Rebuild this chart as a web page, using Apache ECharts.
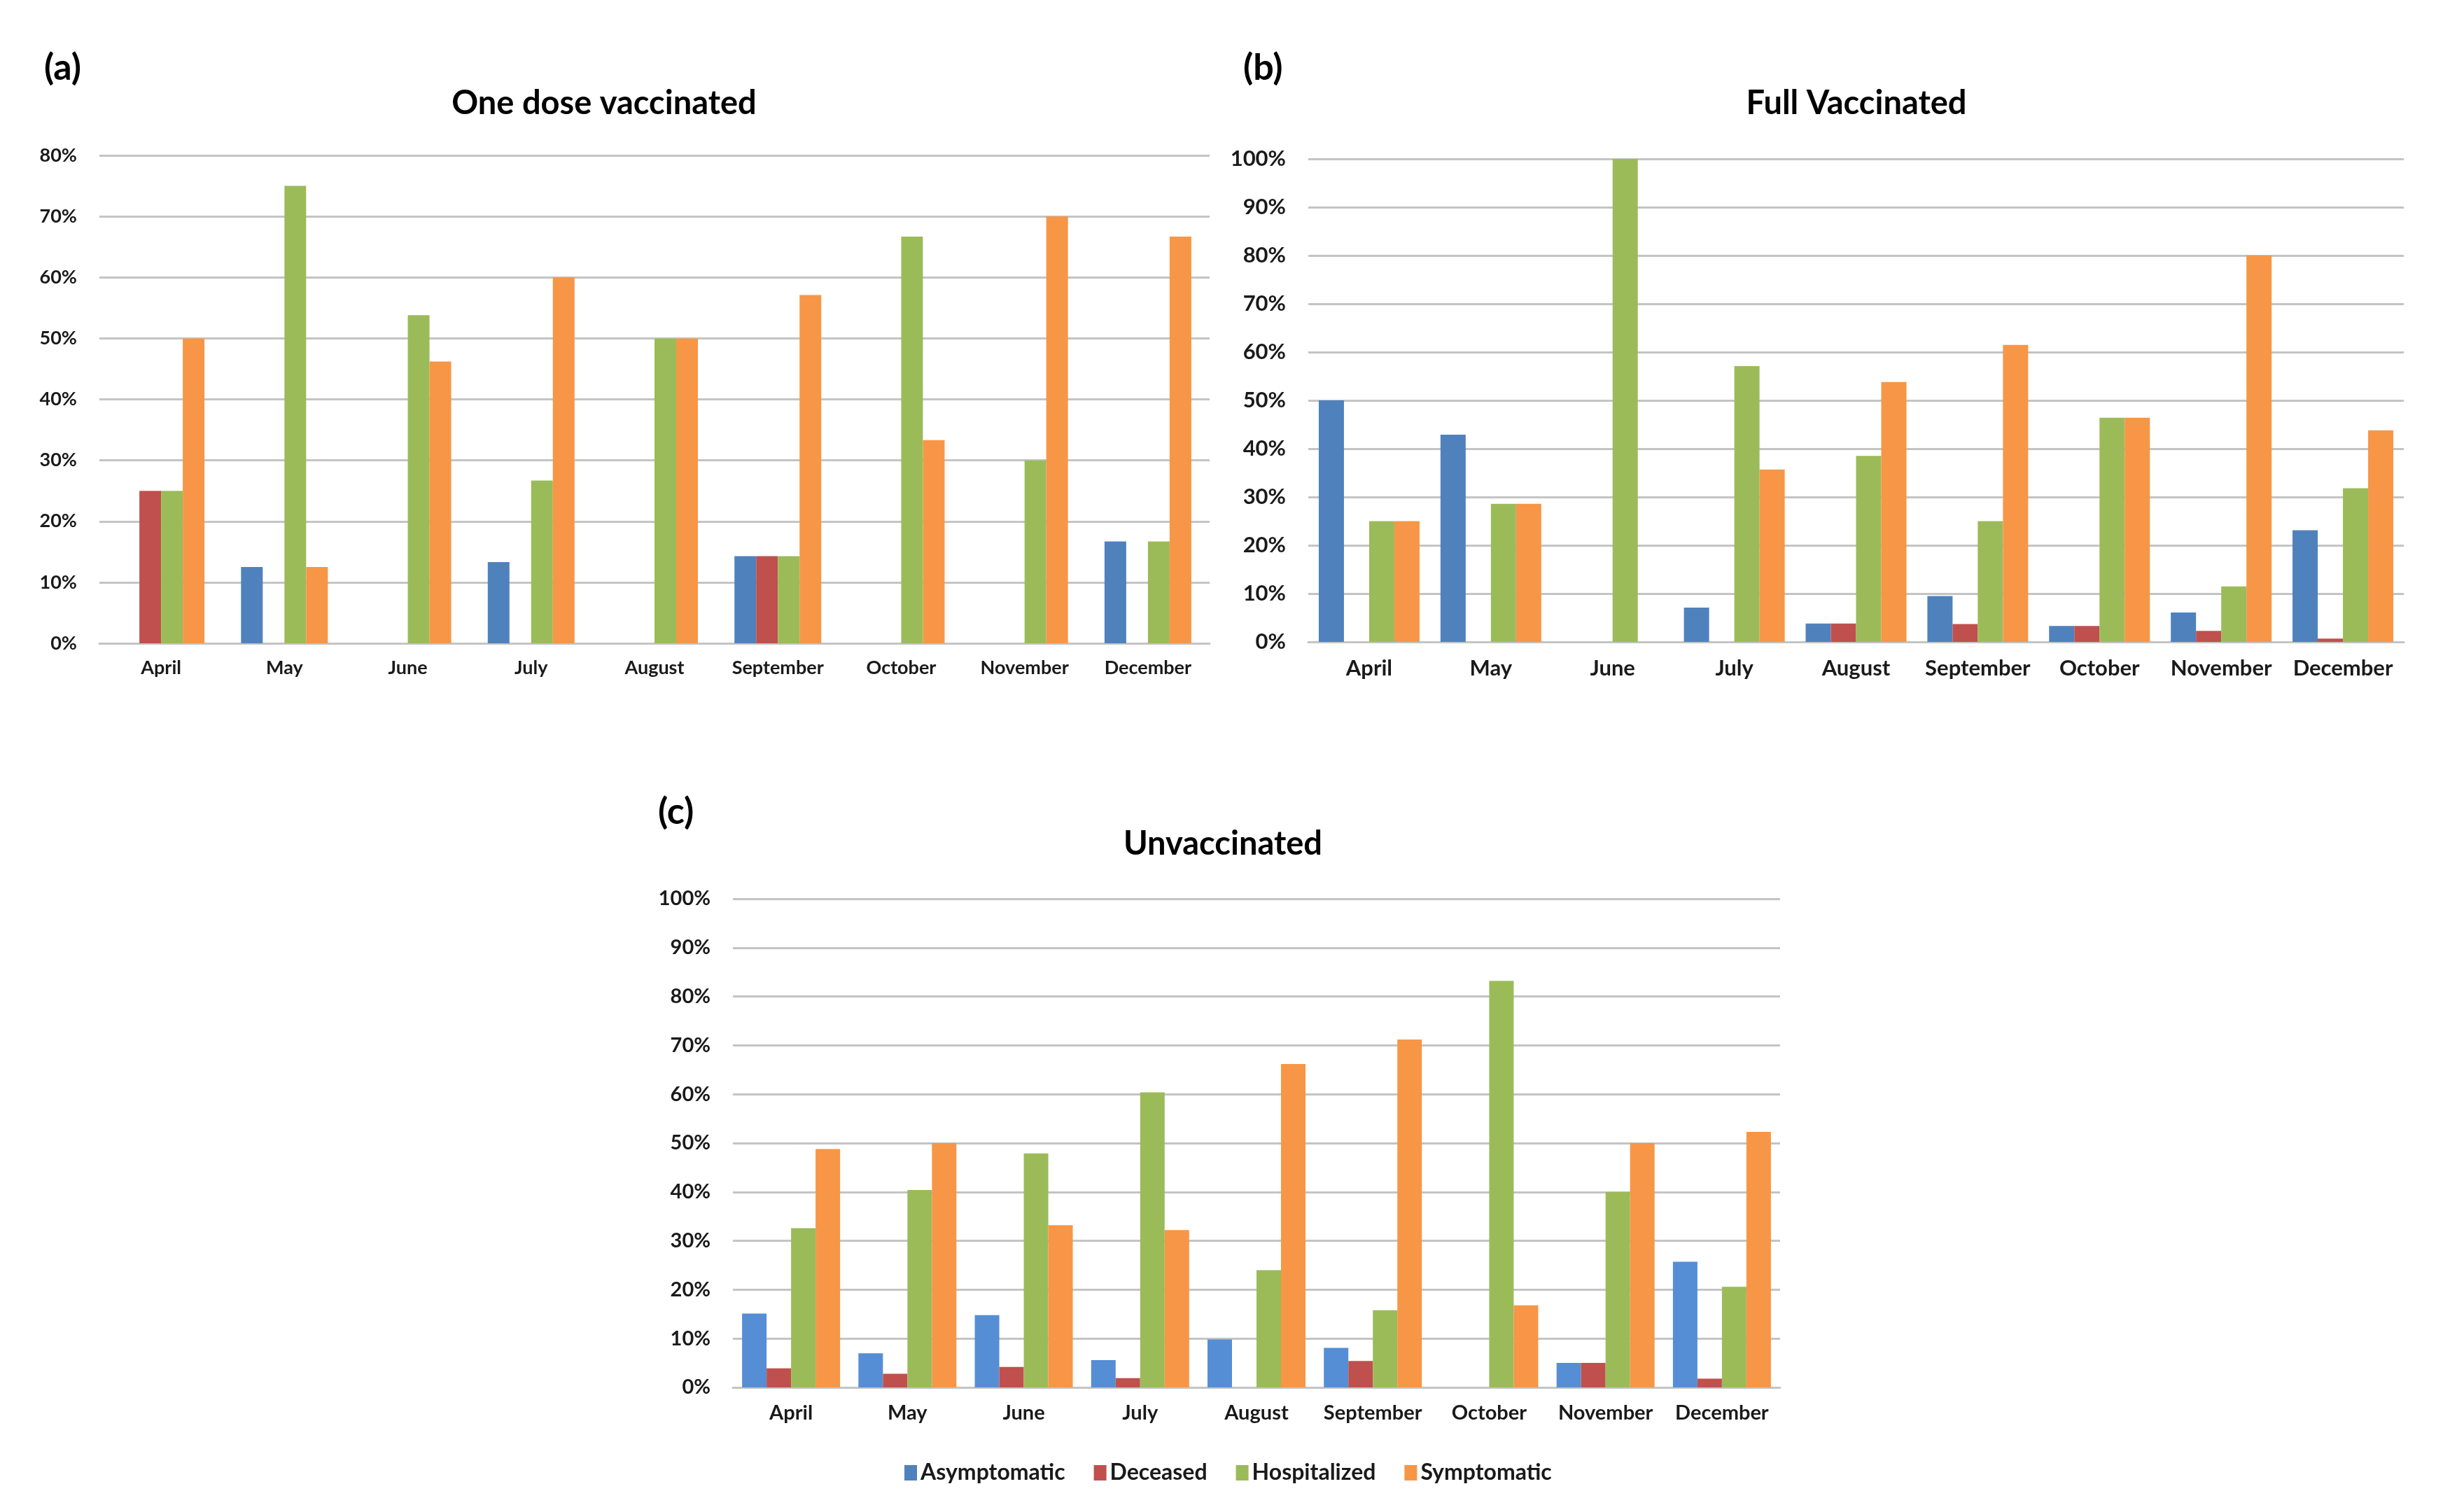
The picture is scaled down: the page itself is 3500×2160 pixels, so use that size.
<!DOCTYPE html>
<html>
<head>
<meta charset="utf-8">
<script src="https://cdn.jsdelivr.net/npm/echarts@6/dist/echarts.min.js"></script>
<style>
html,body{margin:0;padding:0;background:#fff;}
#chart{width:3500px;height:2160px;}
</style>
</head>
<body>
<div id="chart"></div>
<script>
const months = ['April','May','June','July','August','September','October','November','December'];
const seriesNames = ['Asymptomatic','Deceased','Hospitalized','Symptomatic'];

// (a) One dose vaccinated (%)
const asymA = [0, 12.5, 0, 13.3, 0, 14.3, 0, 0, 16.7];
const decA  = [25, 0, 0, 0, 0, 14.3, 0, 0, 0];
const hospA = [25, 75, 53.8, 26.7, 50, 14.3, 66.7, 30, 16.7];
const sympA = [50, 12.5, 46.2, 60, 50, 57.1, 33.3, 70, 66.7];

// (b) Full Vaccinated (%)
const asymB = [50, 42.9, 0, 7.1, 3.8, 9.5, 3.3, 6.1, 23.1];
const decB  = [0, 0, 0, 0, 3.8, 3.7, 3.3, 2.3, 0.7];
const hospB = [25, 28.6, 100, 57.1, 38.5, 25, 46.4, 11.5, 31.8];
const sympB = [25, 28.6, 0, 35.7, 53.8, 61.5, 46.4, 80, 43.8];

// (c) Unvaccinated (%)
const asymC = [15.1, 7.0, 14.8, 5.6, 9.8, 8.1, 0, 5.0, 25.7];
const decC  = [3.9, 2.8, 4.2, 1.9, 0, 5.4, 0, 5.0, 1.8];
const hospC = [32.6, 40.4, 47.9, 60.4, 24.0, 15.8, 83.2, 40.0, 20.6];
const sympC = [48.8, 50.0, 33.2, 32.2, 66.2, 71.2, 16.8, 50.0, 52.3];

const colorsAB = ['#4F81BD','#C0504D','#9BBB59','#F79646'];
const colorsC  = ['#558ED5','#C0504D','#9BBB59','#F79646'];

const FONT = 'Lato';
const gridColor = '#C4C4C4';

const grids = [
  {left:142, top:222, width:1586, height:697},
  {left:1869, top:227, width:1565, height:690},
  {left:1047, top:1284, width:1496, height:698}
];
const yMax = [80, 100, 100];
const barW = [31, 36, 35];
const labelSize = [27, 31, 29];

function xAxis(i){
  return {
    type:'category', gridIndex:i, data:months,
    axisLine:{show:true, lineStyle:{color:gridColor, width:3}},
    axisTick:{show:false},
    axisLabel:{interval:0, color:'#1a1a1a', fontFamily:FONT, fontWeight:'bold', fontSize:labelSize[i], margin:22}
  };
}
function yAxis(i){
  return {
    type:'value', gridIndex:i, min:0, max:yMax[i], interval:10,
    axisLine:{show:false}, axisTick:{show:false},
    splitLine:{show:true, lineStyle:{color:gridColor, width:3}},
    axisLabel:{color:'#1a1a1a', fontFamily:FONT, fontWeight:'bold', fontSize:labelSize[i], margin:32, formatter:'{value}%'}
  };
}

const dataSets = [
  [asymA, decA, hospA, sympA],
  [asymB, decB, hospB, sympB],
  [asymC, decC, hospC, sympC]
];
const series = [];
dataSets.forEach((set, gi) => {
  const cols = gi === 2 ? colorsC : colorsAB;
  set.forEach((arr, si) => {
    series.push({
      type:'bar', name:seriesNames[si], xAxisIndex:gi, yAxisIndex:gi,
      data:arr, barWidth:barW[gi], barGap:'0%',
      itemStyle:{color:cols[si]},
      emphasis:{disabled:true}
    });
  });
});

const titleStyle = {color:'#000', fontFamily:FONT, fontWeight:'bold', fontSize:47};
const tagStyle = {color:'#000', fontFamily:FONT, fontWeight:'bold', fontSize:52};

const option = {
  animation:false,
  backgroundColor:'#fff',
  title:[
    {text:'(a)', left:63, top:71, padding:0, textStyle:tagStyle},
    {text:'One dose vaccinated', left:863, top:124, padding:0, textAlign:'center', textStyle:titleStyle},
    {text:'(b)', left:1776, top:71, padding:0, textStyle:tagStyle},
    {text:'Full Vaccinated', left:2652, top:124, padding:0, textAlign:'center', textStyle:titleStyle},
    {text:'(c)', left:940, top:1134, padding:0, textAlign:'left', textStyle:tagStyle},
    {text:'Unvaccinated', left:1747, top:1182, padding:0, textAlign:'center', textStyle:titleStyle}
  ],
  legend:{
    left:1292, top:2088, padding:0, icon:'rect', itemWidth:18, itemHeight:22, itemGap:41,
    textStyle:{color:'#1a1a1a', fontFamily:FONT, fontWeight:'bold', fontSize:32},
    data:seriesNames.map((n,i)=>({name:n, itemStyle:{color:colorsAB[i]}}))
  },
  grid:grids,
  xAxis:[xAxis(0), xAxis(1), xAxis(2)],
  yAxis:[yAxis(0), yAxis(1), yAxis(2)],
  series:series
};

const chart = echarts.init(document.getElementById('chart'));
chart.setOption(option);
</script>
</body>
</html>
